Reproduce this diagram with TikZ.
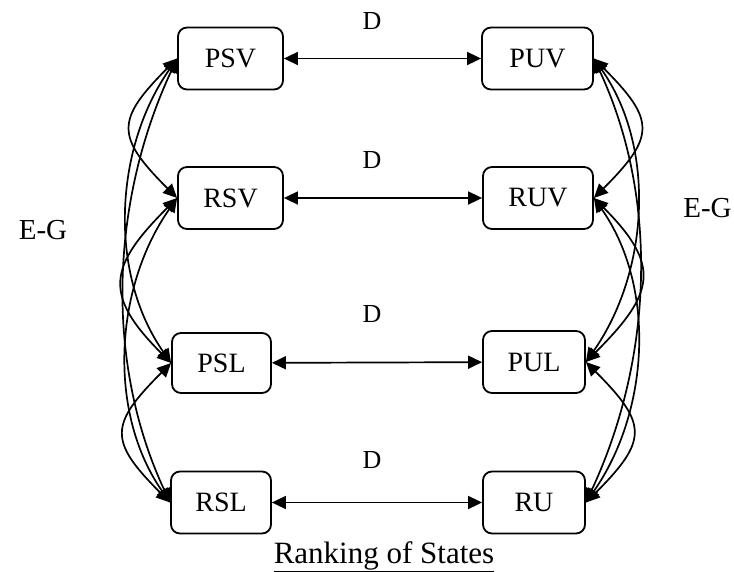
\documentclass[tikz,border=0pt]{standalone}
\usepackage{fontspec}
\setmainfont{Liberation Serif}
\usetikzlibrary{arrows.meta}
\begin{document}
\begin{tikzpicture}[x=1pt,y=1pt,
  state/.style={draw, line width=1.8pt, rounded corners=9pt, inner sep=0pt,
    minimum height=62pt, font=\fontsize{28}{30}\selectfont},
  link/.style={{Triangle[length=14pt,width=13pt]}-{Triangle[length=14pt,width=13pt]}, line width=1.7pt},
  lab/.style={font=\fontsize{26}{28}\selectfont, inner sep=0pt}]
\useasboundingbox (0,0) rectangle (734,571);

% states
\node[state, minimum width=105pt] (PSV) at (230.5,512.5) {PSV};
\node[state, minimum width=111pt] (PUV) at (537.5,512.5) {PUV};
\node[state, minimum width=105pt] (RSV) at (230.5,373) {RSV};
\node[state, minimum width=110pt] (RUV) at (538,373) {RUV};
\node[state, minimum width=99pt, minimum height=60pt] (PSL) at (221.5,208) {PSL};
\node[state, minimum width=102pt] (PUL) at (534,209) {PUL};
\node[state, minimum width=100pt] (RSL) at (221,68.5) {RSL};
\node[state, minimum width=102pt] (RU) at (534,68.5) {RU};

% D transitions
\draw[link] (PSV) -- (PUV);
\draw[link] (RSV) -- (RUV);
\draw[link] (PSL) -- (PUL);
\draw[link] (RSL) -- (RU);
\node[lab] (d1) at (372,550) {D};
\node[lab] (d2) at (372,411) {D};
\node[lab] (d3) at (372,257) {D};
\node[lab] (d4) at (372,111) {D};

% E-G transitions, left column
\draw[link] (PSV.west) to[out=225,in=135,looseness=1.6] (RSV.west);
\draw[link] (RSV.west) to[out=225,in=135,looseness=1.5] (PSL.west);
\draw[link] (PSL.west) to[out=225,in=135,looseness=1.6] (RSL.west);
\draw[link] (PSV.west) to[out=235,in=125,looseness=0.92] (PSL.west);
\draw[link] (RSV.west) to[out=235,in=125,looseness=0.92] (RSL.west);
\draw[link] (PSV.west) to[out=245,in=115,looseness=0.9] (RSL.west);

% E-G transitions, right column
\draw[link] (PUV.east) to[out=-45,in=45,looseness=1.6] (RUV.east);
\draw[link] (RUV.east) to[out=-45,in=45,looseness=1.5] (PUL.east);
\draw[link] (PUL.east) to[out=-45,in=45,looseness=1.6] (RU.east);
\draw[link] (PUV.east) to[out=-55,in=55,looseness=0.92] (PUL.east);
\draw[link] (RUV.east) to[out=-55,in=55,looseness=0.92] (RU.east);
\draw[link] (PUV.east) to[out=-65,in=65,looseness=0.9] (RU.east);

\node[lab, font=\fontsize{29}{31}\selectfont] (egl) at (43,341) {E-G};
\node[lab, font=\fontsize{29}{31}\selectfont] (egr) at (707.5,363) {E-G};

% caption
\node[lab, anchor=base, font=\fontsize{31}{33}\selectfont] (title) at (384,8) {\underline{Ranking of States}};
\end{tikzpicture}
\end{document}
